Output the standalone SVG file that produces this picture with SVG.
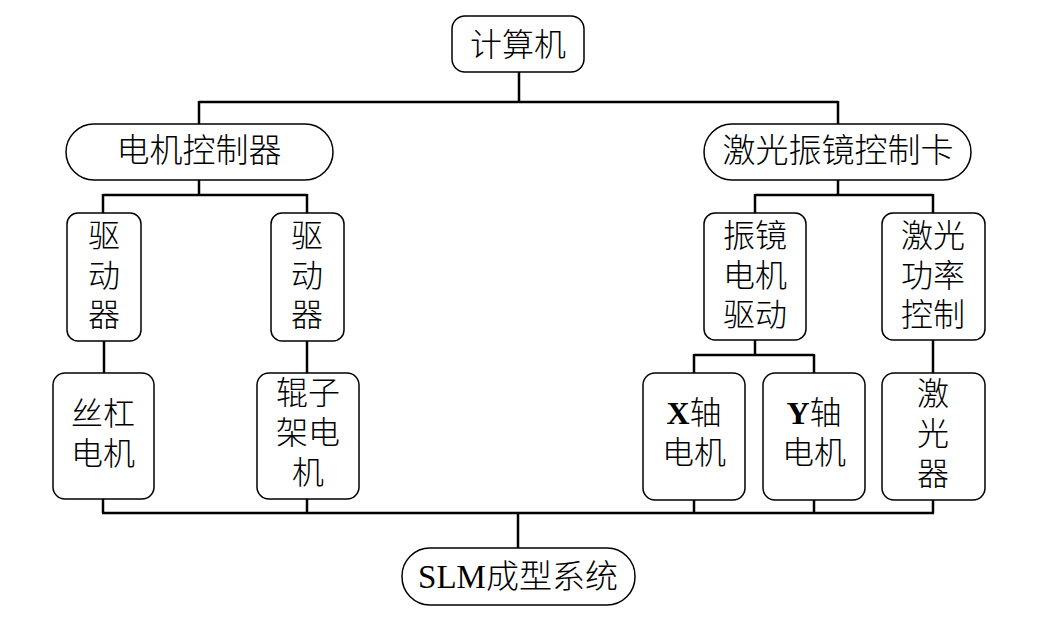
<svg xmlns="http://www.w3.org/2000/svg" width="1048" height="622" viewBox="0 0 1048 622">
<style>
.box{fill:#fff;stroke:#000;stroke-width:1.5}
.t{font-family:"Liberation Serif","Noto Sans CJK SC",serif;font-size:32px;font-weight:300;fill:#000;text-anchor:middle}
.big{font-size:33px}
.b{font-weight:bold}
.c{fill:none;stroke:#000;stroke-width:2.5}
</style>
<rect width="1048" height="622" fill="#fff"/>
<g id="connectors">
<path class="c" d="M519 72V102M199 102H838M199 101V124M838 101V124"/>
<path class="c" d="M199 180V195M103 195H307M103 194V213M307 194V213"/>
<path class="c" d="M838 180V195M755 195H933M755 194V213M933 194V213"/>
<path class="c" d="M104 341V373M307 341V373M933 340V373"/>
<path class="c" d="M755 340V355M694 355H814M694 354V373M814 354V373"/>
<path class="c" d="M103 499V513M307 499V513M694 500V513M814 500V513M933 500V513M102 513H934M518 512V548"/>
</g>
<g id="computer"><rect class="box" x="452" y="16" width="132" height="56" rx="13"/><text class="t" x="518" y="56">计算机</text></g>
<g id="motor-controller"><rect class="box" x="66" y="124" width="267" height="56" rx="28"/><text class="t big" x="199" y="162">电机控制器</text></g>
<g id="laser-card"><rect class="box" x="704" y="124" width="267" height="56" rx="28"/><text class="t big" x="838" y="162">激光振镜控制卡</text></g>
<g id="driver1"><rect class="box" x="67" y="213" width="74" height="128" rx="11"/><text class="t" x="104" y="247">驱</text><text class="t" x="104" y="287">动</text><text class="t" x="104" y="326">器</text></g>
<g id="driver2"><rect class="box" x="271" y="213" width="73" height="128" rx="11"/><text class="t" x="307" y="247">驱</text><text class="t" x="307" y="287">动</text><text class="t" x="307" y="326">器</text></g>
<g id="galvo-driver"><rect class="box" x="704" y="213" width="102" height="127" rx="11"/><text class="t" x="755" y="247">振镜</text><text class="t" x="755" y="287">电机</text><text class="t" x="755" y="326">驱动</text></g>
<g id="laser-power"><rect class="box" x="882" y="213" width="103" height="127" rx="11"/><text class="t" x="933" y="247">激光</text><text class="t" x="933" y="287">功率</text><text class="t" x="933" y="326">控制</text></g>
<g id="screw-motor"><rect class="box" x="53" y="373" width="101" height="126" rx="12"/><text class="t" x="103" y="425">丝杠</text><text class="t" x="103" y="465">电机</text></g>
<g id="roller-motor"><rect class="box" x="257" y="373" width="102" height="126" rx="12"/><text class="t" x="308" y="404">辊子</text><text class="t" x="308" y="444">架电</text><text class="t" x="308" y="484">机</text></g>
<g id="x-motor"><rect class="box" x="643" y="373" width="102" height="127" rx="12"/><text class="t" x="694" y="424"><tspan class="b">X</tspan>轴</text><text class="t" x="694" y="464">电机</text></g>
<g id="y-motor"><rect class="box" x="763" y="373" width="102" height="127" rx="12"/><text class="t" x="814" y="424"><tspan class="b">Y</tspan>轴</text><text class="t" x="814" y="464">电机</text></g>
<g id="laser"><rect class="box" x="882" y="373" width="103" height="127" rx="12"/><text class="t" x="933" y="405">激</text><text class="t" x="933" y="445">光</text><text class="t" x="933" y="485">器</text></g>
<g id="slm"><rect class="box" x="402" y="548" width="233" height="57" rx="28"/><text class="t big" x="518" y="588">SLM成型系统</text></g>
</svg>
